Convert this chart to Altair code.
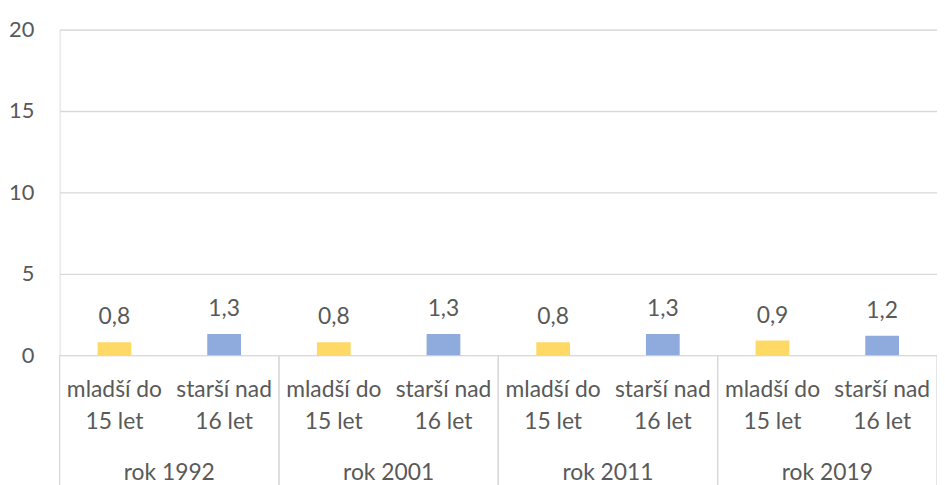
import altair as alt
import pandas as pd

years = ["rok 1992", "rok 2001", "rok 2011", "rok 2019"]
groups = ["mladší do\n15 let", "starší nad\n16 let"]
young = [0.8, 0.8, 0.8, 0.9]
old = [1.3, 1.3, 1.3, 1.2]

rows = []
for i, y in enumerate(years):
    rows.append({"rok": y, "skupina": groups[0], "hodnota": young[i]})
    rows.append({"rok": y, "skupina": groups[1], "hodnota": old[i]})
df = pd.DataFrame(rows)
ydf = pd.DataFrame({"rok": years})

FONT = "Lato"
TXT = "#595959"
W, H = 884, 328
FS = 23

x_enc = alt.X("rok:N", sort=years, scale=alt.Scale(paddingInner=0, paddingOuter=0), axis=None)
xo_enc = alt.XOffset("skupina:N", sort=groups, scale=alt.Scale(paddingInner=0, paddingOuter=0))
y_enc = alt.Y(
    "hodnota:Q",
    scale=alt.Scale(domain=[0, 20]),
    axis=alt.Axis(values=[0, 5, 10, 15, 20], grid=True, domain=False, ticks=False,
                  labelPadding=26, title=None, labelFontSize=22, labelColor=TXT,
                  labelFont=FONT, gridColor="#D9D9D9", gridWidth=1.3),
)

base = alt.Chart(df)

bars = base.mark_bar(width=34).encode(
    x=x_enc, xOffset=xo_enc, y=y_enc,
    color=alt.Color("skupina:N", scale=alt.Scale(domain=groups, range=["#FFD966", "#8FAADC"]), legend=None),
)

vals = base.transform_calculate(
    label="replace(format(datum.hodnota, '.1f'), '.', ',')"
).mark_text(baseline="alphabetic", dy=-18, fontSize=FS, font=FONT, color=TXT).encode(
    x=x_enc, xOffset=xo_enc, y="hodnota:Q", text="label:N"
)

sub = base.mark_text(baseline="alphabetic", lineBreak="\n", lineHeight=32,
                     fontSize=FS, font=FONT, color=TXT).encode(
    x=x_enc, xOffset=xo_enc, y=alt.value(370), text="skupina:N"
)

ychart = alt.Chart(ydf)
ylab = ychart.mark_text(baseline="alphabetic", fontSize=FS, font=FONT, color=TXT).encode(
    x=x_enc, y=alt.value(454), text="rok:N"
)
sep_l = ychart.mark_rule(color="#D9D9D9", strokeWidth=1.3).encode(
    x=alt.X("rok:N", sort=years, bandPosition=0), y=alt.value(H), y2=alt.value(H + 140)
)
sep_r = ychart.mark_rule(color="#D9D9D9", strokeWidth=1.3).encode(
    x=alt.X("rok:N", sort=years, bandPosition=1), y=alt.value(H), y2=alt.value(H + 140)
)

chart = alt.layer(bars, vals, sub, ylab, sep_l, sep_r).properties(
    width=W, height=H,
    autosize=alt.AutoSizeParams(type="none"),
    padding={"left": 52, "top": 20, "right": 0, "bottom": 129},
).configure_view(stroke=None).configure(font=FONT)

chart.save("out.html", embed_options={"renderer": "svg", "actions": False})
